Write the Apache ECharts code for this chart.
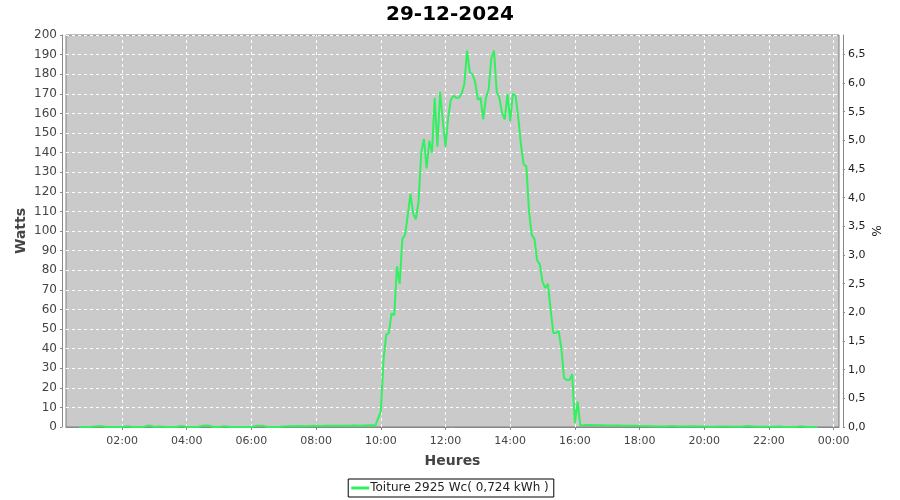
<!DOCTYPE html>
<html><head><meta charset="utf-8">
<script src="https://cdn.jsdelivr.net/npm/echarts@6/dist/echarts.min.js"></script>
<style>html,body{margin:0;padding:0;background:#fff}#c{width:900px;height:500px}</style>
</head><body><div id="c"></div>
<script>
// --- data ---
var title = '29-12-2024';
var seriesName = 'Toiture 2925 Wc( 0,724 kWh )';
var peakWc = 2925;
// tick positions on time axis (minutes after midnight)
var timeTicks = [120, 240, 360, 480, 600, 720, 840, 960, 1080, 1200, 1320, 1440];
var tickLabels = ['02:00','04:00','06:00','08:00','10:00','12:00','14:00','16:00','18:00','20:00','22:00','00:00'];
// night (morning) samples: from 00:40 every 10 min
var morningStart = 40, morningStep = 10;
var morningWatts = [0,0,0,0.3,0.5,0,0,0,0,0.4,
  0,0,0,0.8,0,0.3,0,0,0,0.5,
  0,0,0,0.6,0.8,0,0,0.4,0,0,
  0,0,0,0.6,0.7,0,0,0,0.3,0.4,
  0.4,0.5,0.4,0.5,0.6,0.5,0.6,0.6,0.7,0.6,
  0.7,0.8,0.7,0.8,0.9,0.8];
// daytime samples: from 10:00 every 5 min
var dayStart = 600, dayStep = 5;
var dayWatts = [8,34,47,48,58,57,82,73,96,98,
  108,119,109,106,115,140,147,132,146,140,
  168,143,171,156,143,158,167,169,168,168,
  170,175,192,181,180,176,167,168,157,168,
  172,188,192,171,168,160,157,170,156,170,
  169,158,144,134,133,110,98,96,85,83,
  74,71,73,60,48,48,49,40,25,24,
  24,27,2,13,1,0.8];
// evening samples: from 16:20 every 10 min
var eveningStart = 980, eveningStep = 10;
var eveningWatts = [1.0,1.0,0.9,0.9,0.8,0.8,0.8,0.7,0.6,0.6,
  0.5,0.5,0.4,0.3,0.3,0.2,0.5,0.3,0.2,0.2,
  0.4,0.2,0.2,0.1,0.1,0.3,0.2,0.1,0.1,0.1,
  0.5,0.3,0.1,0.1,0.1,0.1,0.2,0,0,0,
  0.4,0,0,0];

// --- build ---
var pts = [];
morningWatts.forEach(function(v,i){ pts.push([morningStart + i*morningStep, v]); });
dayWatts.forEach(function(v,i){ pts.push([dayStart + i*dayStep, v]); });
eveningWatts.forEach(function(v,i){ pts.push([eveningStart + i*eveningStep, v]); });

var FONT = 'DejaVu Sans';
var chart = echarts.init(document.getElementById('c'), null, {renderer:'canvas'});
chart.setOption({
  animation: false,
  backgroundColor: '#ffffff',
  title: { text: title, left: 'center', top: 0,
    textStyle: { fontFamily: FONT, fontSize: 20, fontWeight: 'bold', color: '#000' } },
  legend: { bottom: 3, left: 'center', data: [seriesName], icon: 'rect', itemWidth: 18, itemHeight: 3,
    itemGap: 2, padding: [3, 5, 3, 3], borderColor: '#000', borderWidth: 1, borderRadius: 0,
    textStyle: { fontFamily: FONT, fontSize: 12, color: '#222', padding: [0,0,0,-4] } },
  grid: { left: 66, right: 61, top: 35, bottom: 73, show: true, backgroundColor: '#cacaca',
    borderColor: '#7f7f7f', borderWidth: 1, outerBoundsMode: 'none', containLabel: false },
  xAxis: { type: 'value', min: 16, max: 1450, offset: 4,
    name: 'Heures', nameLocation: 'middle', nameGap: 23,
    nameTextStyle: { fontFamily: FONT, fontSize: 14, fontWeight: 'bold', color: '#444' },
    axisLine: { show: true, lineStyle: { color: '#888', width: 1 } },
    axisTick: { show: true, length: 3, customValues: timeTicks, lineStyle: { color: '#888' } },
    axisLabel: { customValues: timeTicks, margin: 5, fontFamily: FONT, fontSize: 11, color: '#444',
      formatter: function(v){ var i = timeTicks.indexOf(v); return i >= 0 ? tickLabels[i] : ''; } },
    splitLine: { show: false } },
  yAxis: [
    { type: 'value', min: 0, max: 200, interval: 10, offset: 4, position: 'left',
      name: 'Watts', nameLocation: 'middle', nameGap: 34, nameMoveOverlap: false,
      nameTextStyle: { fontFamily: FONT, fontSize: 14, fontWeight: 'bold', color: '#444' },
      axisLine: { show: true, lineStyle: { color: '#888' } },
      axisTick: { show: true, length: 2, lineStyle: { color: '#888' } },
      axisLabel: { margin: 5, fontFamily: FONT, fontSize: 12, color: '#444' },
      splitLine: { show: true, lineStyle: { color: '#ffffff', type: [3, 3], width: 1 } } },
    { type: 'value', min: 0, max: 200 / peakWc * 100, interval: 0.5, offset: 4, position: 'right',
      name: '%', nameLocation: 'middle', nameGap: 26, nameRotate: -90, nameMoveOverlap: false,
      nameTextStyle: { fontFamily: FONT, fontSize: 12, color: '#222' },
      axisLine: { show: true, lineStyle: { color: '#888' } },
      axisTick: { show: true, length: 2, lineStyle: { color: '#888' } },
      axisLabel: { margin: 5, fontFamily: FONT, fontSize: 11, color: '#222', showMaxLabel: false,
        formatter: function(v){ return v.toFixed(1).replace('.', ','); } },
      splitLine: { show: false } }
  ],
  series: [
    { type: 'line', name: '__grid', data: [], silent: true, z: 1,
      markLine: { silent: true, symbol: 'none', z: 1, label: { show: false },
        lineStyle: { color: '#ffffff', type: [3, 3], width: 1 },
        data: timeTicks.map(function(t){ return { xAxis: t }; }) } },
    { type: 'line', name: seriesName, data: pts, showSymbol: false, yAxisIndex: 0, z: 3,
      lineStyle: { color: '#33f060', width: 2 }, itemStyle: { color: '#33f060' } }
  ]
});
</script></body></html>
